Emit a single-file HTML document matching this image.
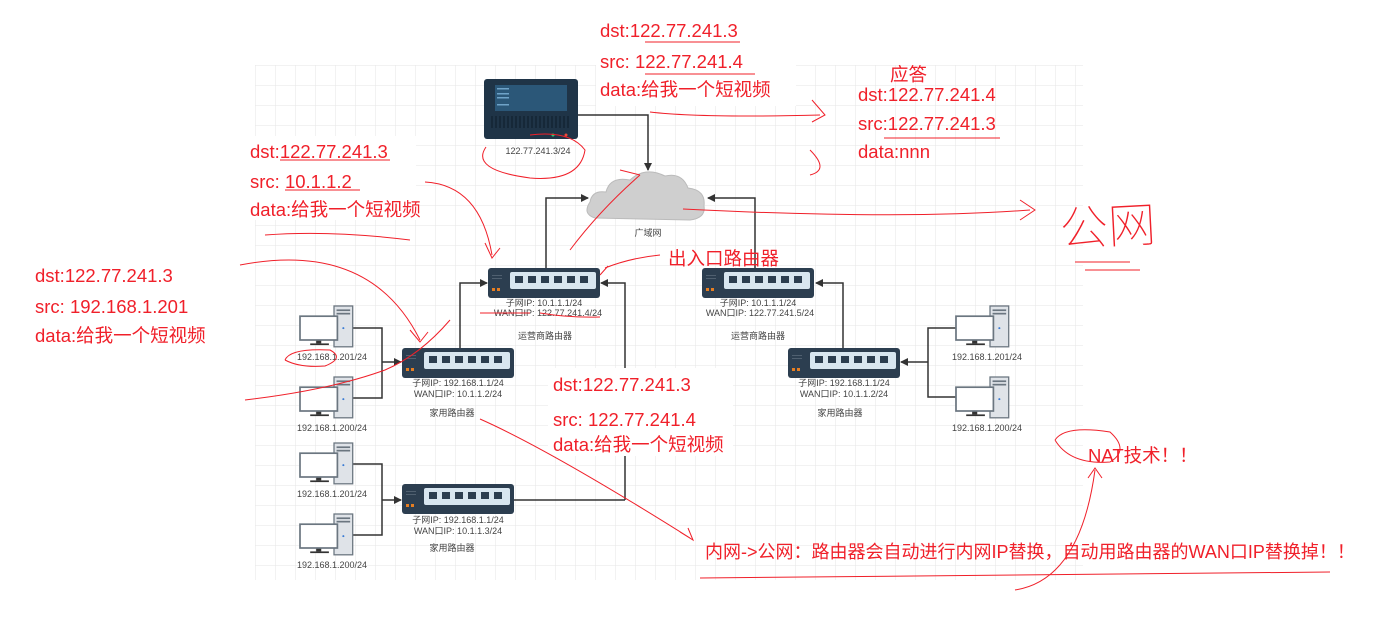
<!DOCTYPE html>
<html><head><meta charset="utf-8"><style>
html,body{margin:0;padding:0;background:#fff;}
svg{display:block}
.s{font-family:"Liberation Sans","Noto Sans CJK SC",sans-serif;font-size:9px;fill:#444}
.r{font-family:"Liberation Sans","Noto Sans CJK SC",sans-serif;font-size:18.5px;fill:#f0202a}
</style></head><body>
<svg width="1376" height="621" viewBox="0 0 1376 621" xmlns="http://www.w3.org/2000/svg">
<defs>
<pattern id="g" width="20" height="20" patternUnits="userSpaceOnUse" x="255" y="65">
<path d="M20 0H0V20" fill="none" stroke="#e6e6e6" stroke-width="1"/>
</pattern>
<marker id="a" markerWidth="8" markerHeight="8" refX="7" refY="4" orient="auto" markerUnits="userSpaceOnUse"><path d="M0,0L8,4L0,8z" fill="#333"/></marker>
<g id="rt">
<rect x="0" y="0" width="112" height="30" rx="3" fill="#2c3e50"/>
<rect x="22" y="4" width="86" height="17" rx="2" fill="#d8e6f0"/>
<g fill="#2c3e50"><rect x="27" y="8" width="8" height="7"/><rect x="40" y="8" width="8" height="7"/><rect x="53" y="8" width="8" height="7"/><rect x="66" y="8" width="8" height="7"/><rect x="79" y="8" width="8" height="7"/><rect x="92" y="8" width="8" height="7"/></g>
<rect x="4" y="20" width="3" height="3" fill="#e67e22"/><rect x="9" y="20" width="3" height="3" fill="#e67e22"/>
<rect x="4" y="7" width="10" height="1" fill="#506070"/><rect x="4" y="10" width="10" height="1" fill="#506070"/>
</g>
<g id="pc">
<rect x="40" y="0" width="22" height="48" fill="#dfe3e8" stroke="#6b7680" stroke-width="1.5"/>
<rect x="43" y="4" width="16" height="2" fill="#6b7680"/><rect x="43" y="8" width="16" height="2" fill="#6b7680"/>
<circle cx="51" cy="26" r="1.2" fill="#3a7bd5"/>
<rect x="19" y="40" width="6" height="4" fill="#333"/><rect x="12" y="44" width="22" height="2" fill="#333"/>
<rect x="0" y="12" width="44" height="28" fill="#fff" stroke="#6b7680" stroke-width="2"/>
</g>
</defs>
<rect x="255" y="65" width="828" height="515" fill="url(#g)"/>

<!-- server -->
<rect x="484" y="79" width="94" height="60" rx="3" fill="#1f3447"/>
<rect x="495" y="85" width="72" height="26" fill="#2b5778"/>
<g fill="#6fa3c8"><rect x="497" y="88" width="12" height="1.5"/><rect x="497" y="93" width="12" height="1.5"/><rect x="497" y="97" width="12" height="1.5"/><rect x="497" y="104" width="12" height="1.5"/></g>
<g stroke="#10202e" stroke-width="1.2"><path d="M492 116V128M496 116V128M500 116V128M504 116V128M508 116V128M512 116V128M516 116V128M520 116V128M524 116V128M528 116V128M532 116V128M536 116V128M540 116V128M544 116V128M548 116V128M552 116V128M556 116V128M560 116V128M564 116V128M568 116V128"/></g>
<circle cx="553" cy="135" r="1.5" fill="#2ecc71"/><circle cx="566" cy="135" r="1.5" fill="#e74c3c"/>
<text class="s" x="538" y="154" text-anchor="middle">122.77.241.3/24</text>

<!-- cloud -->
<path d="M595 218 Q582 214 590 202 Q592 190 606 192 Q610 176 630 180 Q645 166 665 176 Q682 172 688 188 Q706 190 704 206 Q706 218 690 220 Z" fill="#cfcfcf" stroke="#bbb"/>
<text class="s" x="648" y="236" text-anchor="middle">广域网</text>

<g fill="none" stroke="#333" stroke-width="1.5">
<path d="M578 115H648V170" marker-end="url(#a)"/>
<path d="M546 268V198H588" marker-end="url(#a)"/>
<path d="M755 268V198H708" marker-end="url(#a)"/>
<path d="M460 348V283H487" marker-end="url(#a)"/>
<path d="M625 500V283H601" marker-end="url(#a)"/>
<path d="M514 500H625"/>
<path d="M843 348V283H816" marker-end="url(#a)"/>
<path d="M350 328H382V398H350M382 362H401" marker-end="url(#a)"/>
<path d="M350 464H382V535H350M382 500H401" marker-end="url(#a)"/>
<path d="M957 328H928V397H957M928 362H901" marker-end="url(#a)"/>
</g>

<use href="#rt" x="488" y="268"/>
<text class="s" x="544" y="306" text-anchor="middle">子网IP:   10.1.1.1/24</text>
<text class="s" x="548" y="316" text-anchor="middle">WAN口IP:  122.77.241.4/24</text>
<text class="s" x="545" y="339" text-anchor="middle">运营商路由器</text>
<use href="#rt" x="702" y="268"/>
<text class="s" x="758" y="306" text-anchor="middle">子网IP:   10.1.1.1/24</text>
<text class="s" x="760" y="316" text-anchor="middle">WAN口IP:  122.77.241.5/24</text>
<text class="s" x="758" y="339" text-anchor="middle">运营商路由器</text>

<use href="#rt" x="402" y="348"/>
<text class="s" x="458" y="386" text-anchor="middle">子网IP:   192.168.1.1/24</text>
<text class="s" x="458" y="397" text-anchor="middle">WAN口IP:  10.1.1.2/24</text>
<text class="s" x="452" y="416" text-anchor="middle">家用路由器</text>
<use href="#rt" x="402" y="484"/>
<text class="s" x="458" y="523" text-anchor="middle">子网IP:   192.168.1.1/24</text>
<text class="s" x="458" y="534" text-anchor="middle">WAN口IP:  10.1.1.3/24</text>
<text class="s" x="452" y="551" text-anchor="middle">家用路由器</text>
<use href="#rt" x="788" y="348"/>
<text class="s" x="844" y="386" text-anchor="middle">子网IP:   192.168.1.1/24</text>
<text class="s" x="844" y="397" text-anchor="middle">WAN口IP:  10.1.1.2/24</text>
<text class="s" x="840" y="416" text-anchor="middle">家用路由器</text>

<use href="#pc" transform="translate(300 306) scale(0.85)"/><text class="s" x="332" y="360" text-anchor="middle">192.168.1.201/24</text>
<use href="#pc" transform="translate(300 377) scale(0.85)"/><text class="s" x="332" y="431" text-anchor="middle">192.168.1.200/24</text>
<use href="#pc" transform="translate(300 443) scale(0.85)"/><text class="s" x="332" y="497" text-anchor="middle">192.168.1.201/24</text>
<use href="#pc" transform="translate(300 514) scale(0.85)"/><text class="s" x="332" y="568" text-anchor="middle">192.168.1.200/24</text>
<use href="#pc" transform="translate(956 306) scale(0.85)"/><text class="s" x="987" y="360" text-anchor="middle">192.168.1.201/24</text>
<use href="#pc" transform="translate(956 377) scale(0.85)"/><text class="s" x="987" y="431" text-anchor="middle">192.168.1.200/24</text>

<!-- red text -->
<g>
<rect x="596" y="14" width="200" height="92" fill="#fff"/>
<text class="r" x="600" y="37">dst:122.77.241.3</text>
<text class="r" x="600" y="68">src:  122.77.241.4</text>
<text class="r" x="600" y="96">data:给我一个短视频</text>
<text class="r" x="890" y="81">应答</text>
<text class="r" x="858" y="101">dst:122.77.241.4</text>
<text class="r" x="858" y="130">src:122.77.241.3</text>
<text class="r" x="858" y="158">data:nnn</text>
<rect x="246" y="136" width="170" height="84" fill="#fff"/>
<text class="r" x="250" y="158">dst:122.77.241.3</text>
<text class="r" x="250" y="188">src:  10.1.1.2</text>
<text class="r" x="250" y="216">data:给我一个短视频</text>
<text class="r" x="35" y="282">dst:122.77.241.3</text>
<text class="r" x="35" y="313">src: 192.168.1.201</text>
<text class="r" x="35" y="342">data:给我一个短视频</text>
<rect x="548" y="368" width="185" height="88" fill="#fff"/>
<text class="r" x="553" y="391">dst:122.77.241.3</text>
<text class="r" x="553" y="426">src:   122.77.241.4</text>
<text class="r" x="553" y="451">data:给我一个短视频</text>
<text class="r" x="668" y="265">出入口路由器</text>
<text class="r" x="1088" y="462">NAT技术！！</text>
<text class="r" x="705" y="558" style="font-size:18px">内网-&gt;公网：路由器会自动进行内网IP替换，自动用路由器的WAN口IP替换掉！！</text>
<text class="r" x="1060" y="244" style="font-size:48px;font-weight:100" transform="rotate(-3 1100 230)">公网</text>
</g>

<g fill="none" stroke="#f0202a" stroke-width="1">
<path d="M280 160H390M285 190H360M265 235Q330 230 410 240"/>
<path d="M645 42H740M645 74H755M650 112Q700 118 820 115M812 100L825 115L812 122"/>
<path d="M884 138H1000M810 150Q830 170 810 175"/>
<path d="M486 147Q470 170 530 178Q580 182 585 150Q570 130 530 135"/>
<path d="M425 182Q480 185 492 255M485 243L492 258L500 248"/>
<path d="M570 250Q600 210 640 175M620 170L640 175"/>
<path d="M683 209Q900 220 1030 210M1020 200L1035 210L1020 220"/>
<path d="M1075 262H1130M1085 270H1140"/>
<path d="M240 265Q370 240 420 340M410 330L420 342L428 332"/>
<path d="M245 400Q330 390 385 370Q420 355 450 320"/>
<path d="M285 360Q290 348 330 350Q345 358 325 366Q300 368 285 360"/>
<path d="M480 313H530M540 313Q570 318 600 317"/>
<path d="M480 419Q550 450 690 538M680 532L693 540L688 528"/>
<path d="M605 268Q630 258 660 255M600 275L608 266"/>
<path d="M1055 440Q1065 425 1110 432Q1130 450 1110 462Q1070 465 1055 440"/>
<path d="M1015 590Q1080 580 1095 470M1088 478L1095 468L1102 478"/>
<path d="M700 578Q900 575 1330 572"/>
</g>
</svg>
</body></html>
